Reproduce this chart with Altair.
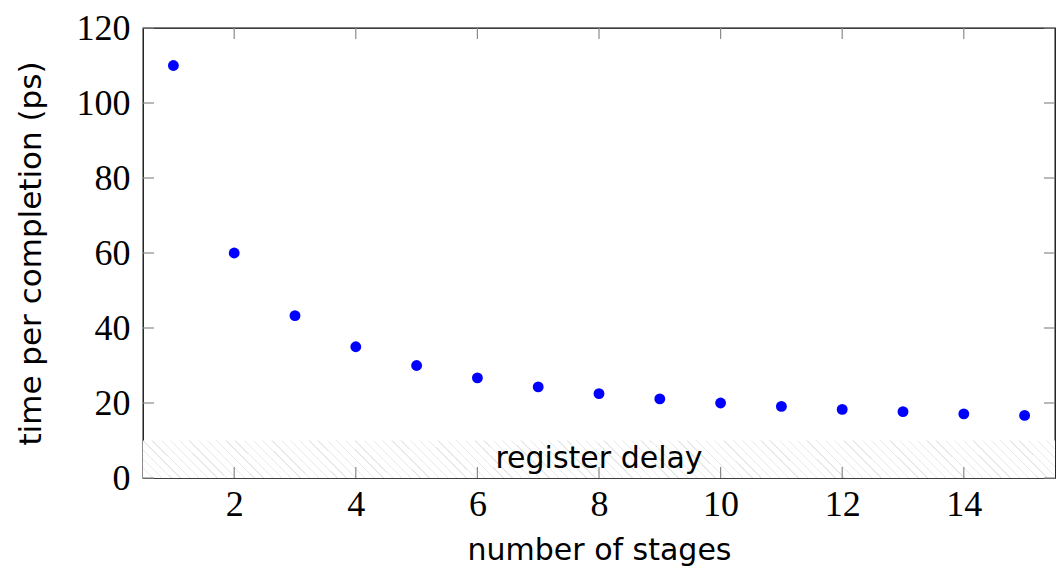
import altair as alt
import pandas as pd

# ---- data ----
stages = [1, 2, 3, 4, 5, 6, 7, 8, 9, 10, 11, 12, 13, 14, 15]
time_ps = [110.0, 60.0, 43.3, 35.0, 30.0, 26.7, 24.3, 22.5, 21.1, 20.0, 19.1, 18.3, 17.7, 17.1, 16.7]

x_ticks = [2, 4, 6, 8, 10, 12, 14]
y_ticks = [0, 20, 40, 60, 80, 100, 120]
x_domain = [0.5, 15.5]
y_domain = [0, 120]

band_low = [0]
band_high = [10]
band_label = ["register delay"]

W, H = 912, 450
LABEL_FONT = "Liberation Serif"
TITLE_FONT = "DejaVu Sans"

pts = pd.DataFrame({"n": stages, "t": time_ps})
band = pd.DataFrame({"x0": [x_domain[0]], "x1": [x_domain[1]], "lo": band_low, "hi": band_high, "label": band_label})
xt = pd.DataFrame({"v": x_ticks})
yt = pd.DataFrame({"v": y_ticks})

xs = alt.Scale(domain=x_domain, nice=False, zero=False)
ys = alt.Scale(domain=y_domain, nice=False)

# faint hatch pattern via striped linear gradient
stops = []
n_str = 104
lw = 0.0014
for i in range(n_str + 1):
    a = i / n_str
    b = min(a + lw, 1.0)
    stops += [
        alt.GradientStop(offset=a, color="#ffffff"),
        alt.GradientStop(offset=a, color="#e9e9e9"),
        alt.GradientStop(offset=b, color="#e9e9e9"),
        alt.GradientStop(offset=b, color="#ffffff"),
    ]
hatch = alt.LinearGradient(gradient="linear", stops=stops, x1=0, y1=1, x2=1.05, y2=1 - 0.0434)

band_rect = alt.Chart(band).mark_rect(fill=hatch).encode(
    x=alt.X("x0:Q", scale=xs,
            axis=alt.Axis(values=x_ticks, format="d", ticks=False, domain=False, grid=False,
                          labelFont=LABEL_FONT, labelFontSize=36, labelColor="black",
                          labelBaseline="alphabetic", labelPadding=37,
                          title="number of stages", titleFont=TITLE_FONT, titleFontSize=30,
                          titleFontWeight="normal", titleColor="black",
                          titleBaseline="alphabetic", titleX=W / 2, titleY=81)),
    x2="x1:Q",
    y=alt.Y("lo:Q", scale=ys,
            axis=alt.Axis(values=y_ticks, format="d", ticks=False, domain=False, grid=False,
                          labelFont=LABEL_FONT, labelFontSize=36, labelColor="black",
                          labelPadding=13,
                          title="time per completion (ps)", titleFont=TITLE_FONT, titleFontSize=31,
                          titleFontWeight="normal", titleColor="black",
                          titleAngle=270, titleBaseline="middle", titleX=-112, titleY=H / 2)),
    y2="hi:Q",
)

band_text = alt.Chart(band).mark_text(
    font=TITLE_FONT, fontSize=30, color="black", baseline="alphabetic", align="center"
).encode(x=alt.value(W / 2), y=alt.value(H - 10), text="label:N")

tick_color = "#8a8a8a"
xb = alt.Chart(xt).mark_rule(color=tick_color, strokeWidth=1.2).encode(
    x=alt.X("v:Q", scale=xs), y=alt.value(H), y2=alt.value(H - 11))
xtop = alt.Chart(xt).mark_rule(color=tick_color, strokeWidth=1.2).encode(
    x=alt.X("v:Q", scale=xs), y=alt.value(0), y2=alt.value(11))
yl = alt.Chart(yt).mark_rule(color=tick_color, strokeWidth=1.2).encode(
    y=alt.Y("v:Q", scale=ys), x=alt.value(0), x2=alt.value(11))
yr = alt.Chart(yt).mark_rule(color=tick_color, strokeWidth=1.2).encode(
    y=alt.Y("v:Q", scale=ys), x=alt.value(W), x2=alt.value(W - 11))

points = alt.Chart(pts).mark_circle(size=118, color="#0000ff", opacity=1).encode(
    x=alt.X("n:Q", scale=xs), y=alt.Y("t:Q", scale=ys))

chart = alt.layer(band_rect, band_text, xb, xtop, yl, yr, points).properties(
    width=W, height=H,
    autosize=alt.AutoSizeParams(type="none"),
    padding={"left": 135, "top": 20, "right": 1, "bottom": 90},
).configure_view(stroke="black", strokeWidth=1.3)

chart.save("out.html", embed_options={"renderer": "svg", "actions": False})
